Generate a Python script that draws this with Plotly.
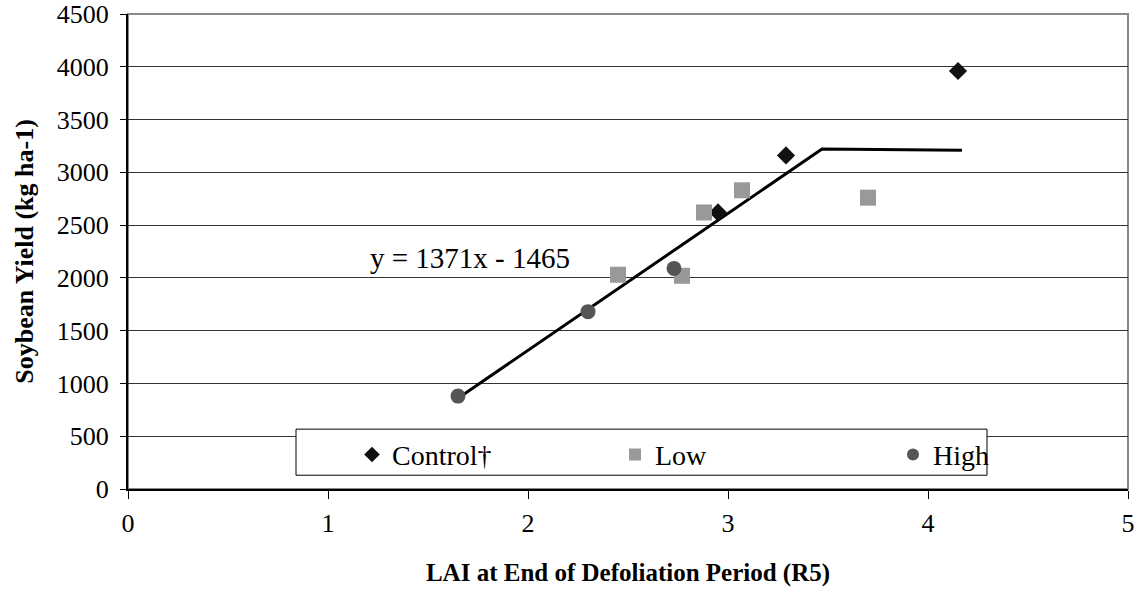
import plotly.graph_objects as go

# LAI at end of defoliation (x) vs. soybean yield (y)
control_lai = [4.15, 3.29, 2.95]
control_yield = [3960, 3160, 2620]
low_lai = [3.70, 3.07, 2.88, 2.45, 2.77]
low_yield = [2760, 2830, 2620, 2030, 2020]
high_lai = [2.73, 2.30, 1.65]
high_yield = [2090, 1680, 880]

# fitted linear-plateau line as drawn
fit_lai = [1.65, 3.47, 4.17]
fit_yield = [860, 3220, 3210]

x_ticks = [0, 1, 2, 3, 4, 5]
y_ticks = [0, 500, 1000, 1500, 2000, 2500, 3000, 3500, 4000, 4500]

serif = "Times New Roman, Liberation Serif, serif"

fig = go.Figure()

fig.add_trace(go.Scatter(x=fit_lai, y=fit_yield, mode="lines",
                         line=dict(color="black", width=3), showlegend=False))
fig.add_trace(go.Scatter(x=control_lai, y=control_yield, mode="markers", name="Control†",
                         legend="legend",
                         marker=dict(symbol="diamond", size=14, color="#111111")))
fig.add_trace(go.Scatter(x=low_lai, y=low_yield, mode="markers", name="Low",
                         legend="legend2",
                         marker=dict(symbol="square", size=16, color="#999999")))
fig.add_trace(go.Scatter(x=high_lai, y=high_yield, mode="markers", name="High",
                         legend="legend3",
                         marker=dict(symbol="circle", size=15, color="#555555")))

fig.add_annotation(x=1.71, y=2190, text="y = 1371x - 1465", showarrow=False,
                   font=dict(family=serif, size=29, color="black"))

# plot area border
fig.add_shape(type="rect", xref="paper", yref="paper", x0=0, y0=0, x1=1, y1=1,
              line=dict(color="#888888", width=2), layer="below")
# legend box
fig.add_shape(type="rect", xref="paper", yref="paper", x0=0.168, y0=0.029, x1=0.859, y1=0.126,
              line=dict(color="black", width=1), fillcolor="white", layer="above")

leg = dict(y=0.072, xanchor="left", yanchor="middle", bgcolor="rgba(0,0,0,0)",
           font=dict(family=serif, size=28, color="black"), itemwidth=30, itemsizing="constant")

fig.update_layout(
    width=1140, height=607,
    margin=dict(l=128, r=12, t=14, b=118),
    paper_bgcolor="white", plot_bgcolor="white",
    font=dict(family=serif, size=26, color="black"),
    legend=dict(x=0.224, **leg),
    legend2=dict(x=0.487, **leg),
    legend3=dict(x=0.765, **leg),
    xaxis=dict(range=[0, 5], tickvals=x_ticks, showgrid=False, zeroline=False,
               showline=True, linecolor="black", linewidth=2, automargin=False,
               ticks="outside", ticklen=8, tickcolor="black", ticklabeloverflow="allow",
               ticklabelstandoff=2,
               title=dict(text="<b>LAI at End of Defoliation Period (R5)</b>",
                          font=dict(family=serif, size=25), standoff=26)),
    yaxis=dict(range=[0, 4500], tickvals=y_ticks, showgrid=True, gridcolor="#333333",
               gridwidth=1, zeroline=False, showline=True, linecolor="black", linewidth=2,
               ticks="outside", ticklen=6, tickcolor="black", automargin=False,
               ticklabeloverflow="allow", ticklabelstandoff=6,
               title=dict(text="<b>Soybean Yield (kg ha-1)</b>",
                          font=dict(family=serif, size=26), standoff=16)),
)

# drop the page's default body margin so the figure sits at the window's corner
fig.write_html("out.html", config={"displayModeBar": False},
               post_script="document.body.style.margin='0';")
